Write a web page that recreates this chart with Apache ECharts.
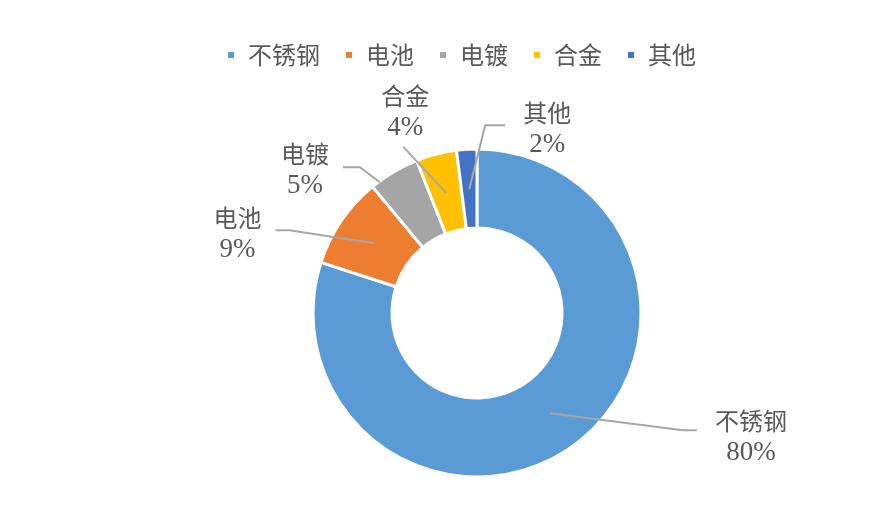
<!DOCTYPE html>
<html>
<head>
    <meta charset="utf-8">
    <title>不锈钢用途占比</title>
    <script src="https://cdn.jsdelivr.net/npm/echarts@6/dist/echarts.min.js"></script>
    <style>
        html, body { margin: 0; padding: 0; background: #fff; }
        #main { width: 872px; height: 516px; }
    </style>
</head>
<body>
    <div id="main"></div>
    <script type="text/javascript">
        // 数据
        var names = ['不锈钢', '电池', '电镀', '合金', '其他'];
        var values = [80, 9, 5, 4, 2];
        var colors = ['#5B9BD5', '#ED7D31', '#A5A5A5', '#FFC000', '#4472C4'];

        // 标签引导线相对于扇区中点的偏移（像素）
        var guides = [
            { line: [[0, 0], [133, 17], [147, 17]], label: [201, 24] },
            { line: [[0, 0], [-85, -13], [-99, -13]], label: [-137, -9] },
            { line: [[-34, -24], [-54, -39], [-71, -39]], label: [-109, -36] },
            { line: [[0, 0], [-40, -43], [-43, -46]], label: [-41, -81] },
            { line: [[0, 0], [16, -64], [36, -64]], label: [78, -60] }
        ];

        var textColor = '#595959';
        var pieData = names.map(function (n, i) {
            return { name: n, value: values[i], itemStyle: { color: colors[i] } };
        });
        var ghostData = names.map(function (n, i) {
            return { name: n, value: values[i] };
        });

        var myChart = echarts.init(document.getElementById('main'));
        var option = {
            backgroundColor: '#fff',
            animation: false,
            legend: {
                data: names,
                left: 221,
                top: 38,
                itemWidth: 8,
                itemHeight: 8,
                itemGap: 24,
                icon: 'rect',
                textStyle: {
                    color: textColor,
                    fontSize: 24,
                    fontFamily: 'Noto Sans CJK SC',
                    padding: [0, 0, 0, 8]
                }
            },
            series: [{
                type: 'pie',
                z: 2,
                center: [477, 313],
                radius: [85, 164],
                startAngle: 90,
                label: { show: false },
                labelLine: { show: false },
                emphasis: { disabled: true },
                itemStyle: { borderColor: '#fff', borderWidth: 3 },
                data: pieData
            }, {
                // 只用于放置标签：引导线从环的中间开始
                type: 'pie',
                z: 5,
                center: [477, 313],
                radius: [0, 124],
                startAngle: 90,
                silent: true,
                avoidLabelOverlap: false,
                emphasis: { disabled: true },
                itemStyle: { color: 'rgba(0,0,0,0)', borderWidth: 0 },
                label: {
                    show: true,
                    position: 'outside',
                    formatter: function (p) {
                        return '{n|' + p.name + '}\n{p|' + p.value + '%}';
                    },
                    rich: {
                        n: { fontSize: 24, fontFamily: 'Noto Sans CJK SC', color: textColor, lineHeight: 32, align: 'center' },
                        p: { fontSize: 27, fontFamily: 'Liberation Serif', color: textColor, lineHeight: 32, align: 'center' }
                    }
                },
                labelLine: {
                    show: true,
                    length: 20,
                    length2: 10,
                    lineStyle: { color: '#A6A6A6', width: 2 }
                },
                labelLayout: function (p) {
                    var s = p.labelLinePoints[0];
                    var g = guides[p.dataIndex];
                    return {
                        x: s[0] + g.label[0],
                        y: s[1] + g.label[1],
                        align: 'center',
                        verticalAlign: 'middle',
                        labelLinePoints: g.line.map(function (d) {
                            return [s[0] + d[0], s[1] + d[1]];
                        })
                    };
                },
                data: ghostData
            }]
        };
        myChart.setOption(option);
    </script>
</body>
</html>
